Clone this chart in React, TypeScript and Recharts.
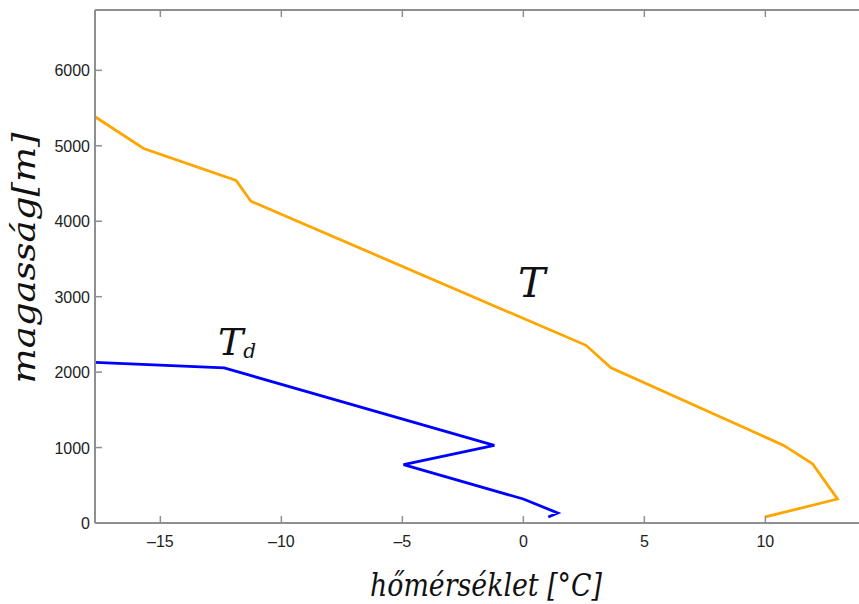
import React from 'react';
import { LineChart, Line, XAxis, YAxis } from 'recharts';

// sounding profile: temperature (°C) vs height (m)
const tempT = [-17.7, -15.69, -11.87, -11.26, 2.59, 3.62, 10.76, 11.95, 12.98, 10.0];
const heightT = [5385, 4964, 4540, 4265, 2355, 2056, 1029, 786, 318, 80];

// dew point
const tempTd = [-17.7, -12.36, -1.2, -4.95, 0.0, 1.42, 1.03];
const heightTd = [2130, 2056, 1029, 773, 318, 133, 80];

const xTicks = [-15, -10, -5, 0, 5, 10];
const yTicks = [0, 1000, 2000, 3000, 4000, 5000, 6000];

const seriesT = tempT.map((t, i) => ({ t, h: heightT[i] }));
const seriesTd = tempTd.map((t, i) => ({ t, h: heightTd[i] }));

const AXIS = '#8f8f8f';
const TICK_LEN = 7;
const tickFont = { fontFamily: "'Liberation Sans', Arial, sans-serif", fontSize: 16, fill: '#222' };
const serif = "'DejaVu Serif', 'Liberation Serif', serif";

const fmt = (v: number) => (v < 0 ? '\u2013' + Math.abs(v) : String(v));

const BottomTick = (props: any) => {
  const { x, y, payload } = props;
  return (
    <g>
      <line x1={x} x2={x} y1={y} y2={y - TICK_LEN} stroke={AXIS} strokeWidth={1.5} />
      <text x={x} y={y + 24} textAnchor="middle" {...tickFont}>{fmt(payload.value)}</text>
    </g>
  );
};

const TopTick = (props: any) => {
  const { x, y } = props;
  return <line x1={x} x2={x} y1={y} y2={y + TICK_LEN} stroke={AXIS} strokeWidth={1.5} />;
};

const LeftTick = (props: any) => {
  const { x, y, payload } = props;
  return (
    <g>
      <line x1={x} x2={x + TICK_LEN} y1={y} y2={y} stroke={AXIS} strokeWidth={1.5} />
      <text x={x - 5} y={y + 6} textAnchor="end" {...tickFont}>{payload.value}</text>
    </g>
  );
};

export default function App() {
  return (
    <div style={{ position: 'absolute', left: 0, top: 0, width: 859, height: 604, background: '#fff' }}>
      <LineChart width={859} height={604} margin={{ top: 0, right: 0, bottom: 51, left: 0 }}>
        <XAxis
          type="number"
          dataKey="t"
          domain={[-17.7, 13.87]}
          ticks={xTicks}
          allowDataOverflow
          height={30}
          tickSize={0}
          tickMargin={0}
          tickLine={false}
          axisLine={{ stroke: AXIS, strokeWidth: 2 }}
          tick={<BottomTick />}
        />
        <XAxis
          xAxisId="top"
          orientation="top"
          type="number"
          dataKey="t"
          domain={[-17.7, 13.87]}
          ticks={xTicks}
          allowDataOverflow
          height={10}
          tickSize={0}
          tickMargin={0}
          tickLine={false}
          axisLine={{ stroke: AXIS, strokeWidth: 2 }}
          tick={<TopTick />}
        />
        <YAxis
          type="number"
          dataKey="h"
          domain={[0, 6800]}
          ticks={yTicks}
          allowDataOverflow
          width={95}
          tickSize={0}
          tickMargin={0}
          tickLine={false}
          axisLine={{ stroke: AXIS, strokeWidth: 2 }}
          tick={<LeftTick />}
        />
        <Line data={seriesT} dataKey="h" type="linear" stroke="#ffa500" strokeWidth={2.8} dot={false} isAnimationActive={false} />
        <Line data={seriesTd} dataKey="h" type="linear" stroke="#0000ff" strokeWidth={2.8} dot={false} isAnimationActive={false} />
      </LineChart>
      <svg width={859} height={604} style={{ position: 'absolute', left: 0, top: 0, pointerEvents: 'none' }}>
        <text x={518} y={297} fontFamily={serif} fontStyle="italic" fontSize={41} fill="#111">T</text>
        <text x={218} y={355} fontFamily={serif} fontStyle="italic" fontSize={38} fill="#111">
          T<tspan fontSize={20} dy={3}>d</tspan>
        </text>
        <text x={370} y={596} fontFamily={serif} fontStyle="italic" fontSize={32} fill="#111" textLength={232} lengthAdjust="spacingAndGlyphs">hőmérséklet [°C]</text>
        <text transform="translate(35,258) rotate(-90)" textAnchor="middle" fontFamily={serif} fontStyle="italic" fontSize={32} fill="#111" textLength={251} lengthAdjust="spacingAndGlyphs">magasság[m]</text>
      </svg>
    </div>
  );
}
